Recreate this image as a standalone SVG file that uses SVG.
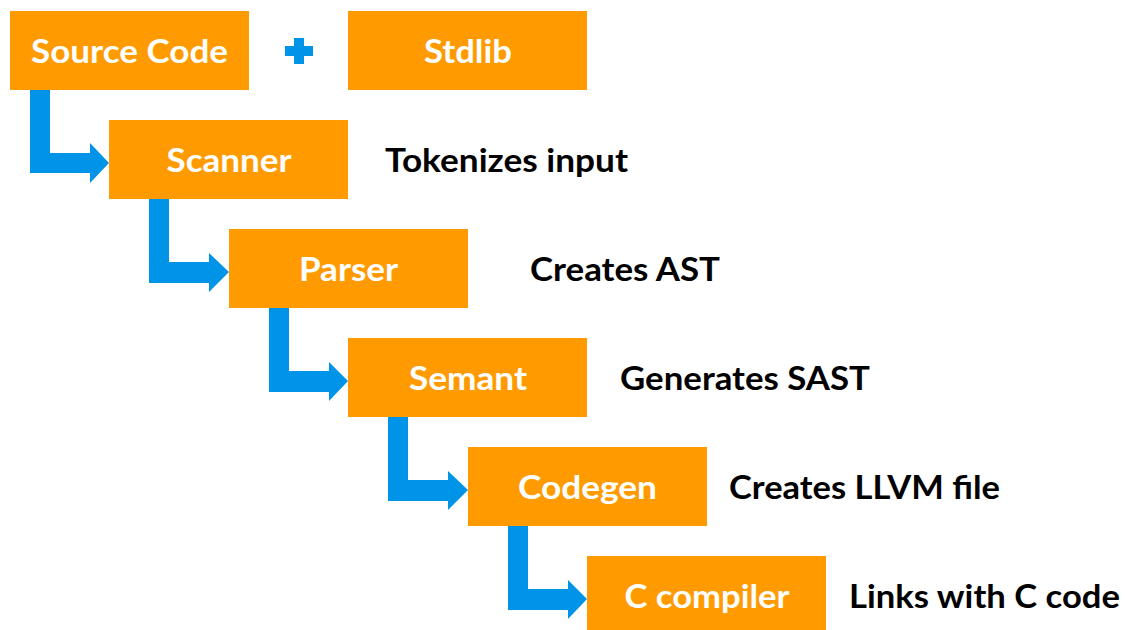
<svg xmlns="http://www.w3.org/2000/svg" width="1128" height="630" viewBox="0 0 1128 630">
<style>
.box{fill:#FF9B00}
.bt{fill:#fff;font-family:Lato,"Open Sans",sans-serif;font-weight:bold;font-size:32px;text-anchor:middle}
.lt{fill:#000;font-family:Lato,"Open Sans",sans-serif;font-weight:bold;font-size:32px}
.arr{fill:#0094E8}
</style>
<rect width="1128" height="630" fill="#fff"/>
<g id="connectors">
<path class="arr" d="M30 90 V173 H90 V183 L109 163 L90 143 V153 H50 V90 Z"/>
<path class="arr" d="M149 199 V283 H209 V292 L229 272 L209 253 V262 H169 V199 Z"/>
<path class="arr" d="M269 308 V392 H329 V401 L348 381 L329 362 V371 H289 V308 Z"/>
<path class="arr" d="M388 417 V501 H448 V510 L468 490 L448 471 V480 H408 V417 Z"/>
<path class="arr" d="M508 526 V610 H568 V619 L587 599 L568 580 V589 H528 V526 Z"/>
<path class="arr" d="M294 38 H304 V46 H313 V56 H304 V64 H294 V56 H285 V46 H294 Z"/>
</g>
<g id="source"><rect class="box" x="10" y="11" width="239" height="79"/><text class="bt" x="129.5" y="63" textLength="197" lengthAdjust="spacingAndGlyphs">Source Code</text></g>
<g id="stdlib"><rect class="box" x="348" y="11" width="239" height="79"/><text class="bt" x="468" y="63" textLength="88" lengthAdjust="spacingAndGlyphs">Stdlib</text></g>
<g id="scanner"><rect class="box" x="109" y="120" width="239" height="79"/><text class="bt" x="229" y="172" textLength="125" lengthAdjust="spacingAndGlyphs">Scanner</text><text class="lt" x="385" y="172" textLength="243" lengthAdjust="spacingAndGlyphs">Tokenizes input</text></g>
<g id="parser"><rect class="box" x="229" y="229" width="239" height="79"/><text class="bt" x="348.5" y="281" textLength="99" lengthAdjust="spacingAndGlyphs">Parser</text><text class="lt" x="530" y="281" textLength="190" lengthAdjust="spacingAndGlyphs">Creates AST</text></g>
<g id="semant"><rect class="box" x="348" y="338" width="239" height="79"/><text class="bt" x="468" y="390" textLength="118" lengthAdjust="spacingAndGlyphs">Semant</text><text class="lt" x="620" y="390" textLength="250" lengthAdjust="spacingAndGlyphs">Generates SAST</text></g>
<g id="codegen"><rect class="box" x="468" y="447" width="239" height="79"/><text class="bt" x="587.5" y="499" textLength="139" lengthAdjust="spacingAndGlyphs">Codegen</text><text class="lt" x="729" y="499" textLength="271" lengthAdjust="spacingAndGlyphs">Creates LLVM file</text></g>
<g id="ccompiler"><rect class="box" x="587" y="556" width="239" height="79"/><text class="bt" x="707" y="608" textLength="165" lengthAdjust="spacingAndGlyphs">C compiler</text><text class="lt" x="849" y="608" textLength="271" lengthAdjust="spacingAndGlyphs">Links with C code</text></g>
</svg>
